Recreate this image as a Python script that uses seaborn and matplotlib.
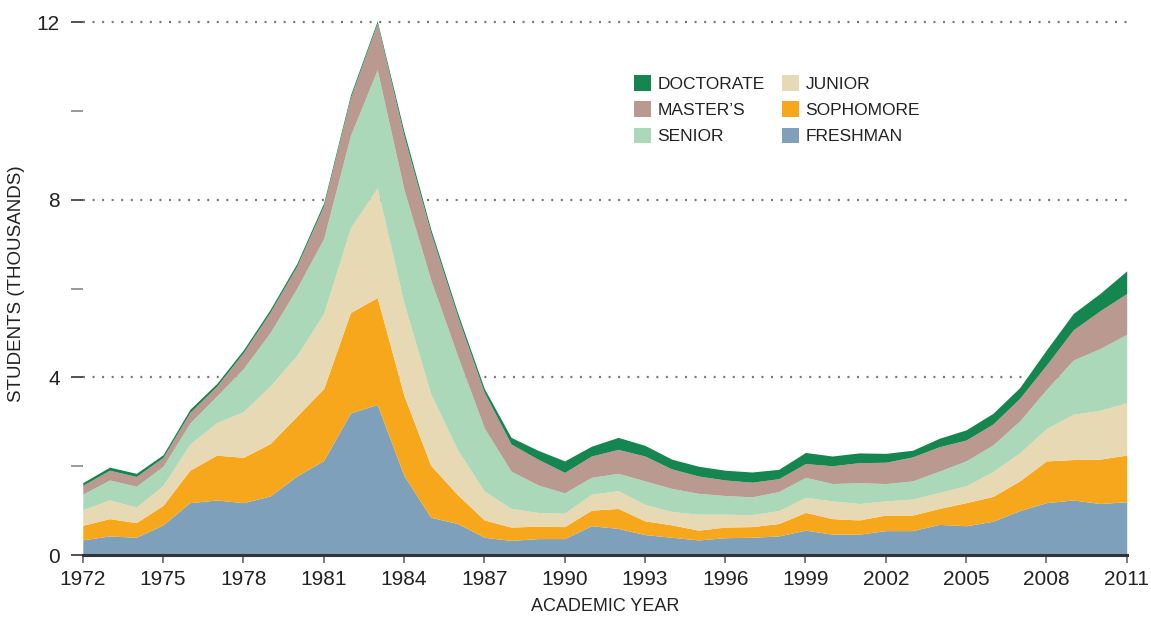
import numpy as np
import pandas as pd
import matplotlib
matplotlib.use("Agg")
import matplotlib.pyplot as plt
import seaborn as sns

# enrollment by level, thousands of students
years = list(range(1972, 2012))

freshman = [0.34, 0.43, 0.40, 0.68, 1.18, 1.24, 1.18, 1.33, 1.78, 2.13,
            3.20, 3.39, 1.79, 0.85, 0.71, 0.40, 0.33, 0.37, 0.37, 0.66,
            0.60, 0.46, 0.40, 0.34, 0.39, 0.40, 0.43, 0.56, 0.47, 0.47,
            0.55, 0.55, 0.69, 0.66, 0.76, 1.00, 1.18, 1.24, 1.16, 1.20]
sophomore = [0.33, 0.39, 0.33, 0.44, 0.73, 1.01, 1.02, 1.18, 1.35, 1.62,
             2.26, 2.41, 1.80, 1.17, 0.65, 0.39, 0.30, 0.28, 0.27, 0.35,
             0.45, 0.31, 0.28, 0.22, 0.24, 0.24, 0.28, 0.40, 0.35, 0.32,
             0.35, 0.35, 0.36, 0.52, 0.56, 0.67, 0.94, 0.91, 1.00, 1.05]
junior = [0.35, 0.42, 0.35, 0.45, 0.59, 0.73, 1.03, 1.30, 1.37, 1.69,
          1.91, 2.47, 2.08, 1.61, 1.01, 0.65, 0.42, 0.31, 0.30, 0.36,
          0.40, 0.37, 0.30, 0.36, 0.29, 0.27, 0.29, 0.34, 0.40, 0.37,
          0.32, 0.36, 0.36, 0.38, 0.56, 0.63, 0.73, 1.02, 1.10, 1.18]
senior = [0.35, 0.45, 0.47, 0.43, 0.47, 0.60, 0.97, 1.20, 1.51, 1.69,
          2.08, 2.66, 2.56, 2.57, 2.12, 1.42, 0.84, 0.62, 0.46, 0.38,
          0.39, 0.53, 0.52, 0.47, 0.42, 0.40, 0.43, 0.45, 0.39, 0.47,
          0.39, 0.41, 0.48, 0.56, 0.60, 0.72, 0.88, 1.22, 1.39, 1.54]
masters = [0.20, 0.22, 0.22, 0.20, 0.24, 0.22, 0.36, 0.46, 0.50, 0.74,
           0.85, 1.05, 1.21, 1.06, 0.89, 0.80, 0.61, 0.58, 0.46, 0.48,
           0.54, 0.56, 0.44, 0.39, 0.35, 0.33, 0.29, 0.31, 0.40, 0.45,
           0.48, 0.54, 0.55, 0.47, 0.47, 0.51, 0.55, 0.68, 0.85, 0.92]
doctorate = [0.06, 0.07, 0.07, 0.06, 0.07, 0.06, 0.06, 0.06, 0.06, 0.06,
             0.06, 0.05, 0.10, 0.08, 0.08, 0.09, 0.15, 0.20, 0.26, 0.22,
             0.27, 0.24, 0.22, 0.22, 0.22, 0.23, 0.21, 0.25, 0.22, 0.22,
             0.20, 0.15, 0.19, 0.23, 0.24, 0.24, 0.34, 0.37, 0.39, 0.51]

levels = ["DOCTORATE", "MASTER\u2019S", "SENIOR", "JUNIOR", "SOPHOMORE", "FRESHMAN"]
colors = ["#168651", "#b99990", "#aad8b8", "#e7d9b4", "#f7a71c", "#7fa0ba"]

frames = []
for name, vals in zip(levels, [doctorate, masters, senior, junior, sophomore, freshman]):
    frames.append(pd.DataFrame({"year": years, "level": name, "students": vals}))
df = pd.concat(frames, ignore_index=True)

sns.set_style("white")
plt.rcParams["font.family"] = ["Liberation Sans", "DejaVu Sans"]

fig = plt.figure(figsize=(11.51, 6.23), dpi=100)
ax = fig.add_axes([0.0719, 0.1091, 0.9070, 0.8695])

# stacked areas: last hue level ends up at the bottom
sns.histplot(data=df, x="year", weights="students", hue="level", hue_order=levels,
             palette=colors, multiple="stack", element="poly", discrete=True,
             alpha=1, linewidth=0, ax=ax)

ax.set_xlim(1972, 2011)
ax.set_ylim(0, 12.2)
ax.set_xticks(range(1972, 2012, 3))
ax.set_xticklabels([str(y) for y in range(1972, 2012, 3)], fontsize=15)
ax.set_yticks([0, 4, 8, 12])
ax.set_yticklabels(["0", "4", "8", "12"], fontsize=15)
ax.set_yticks([2, 6, 10], minor=True)

ax.grid(axis="y", which="major", color="#777777", linestyle=(0, (0.9, 3.4)), linewidth=1.6)
ax.grid(axis="x", visible=False)
ax.set_axisbelow(True)

for s in ["left", "top", "right"]:
    ax.spines[s].set_visible(False)
ax.spines["bottom"].set_color("#333333")
ax.spines["bottom"].set_linewidth(2.2)

ax.tick_params(axis="y", which="major", left=True, length=8.6, width=1.2, color="#333333", pad=8, labelcolor="#222222")
ax.tick_params(axis="y", which="minor", left=True, length=8.6, width=1.2, color="#888888")
ax.tick_params(axis="x", bottom=True, length=6, width=1.2, color="#666666", pad=5, labelcolor="#222222")

ax.set_xlabel("ACADEMIC YEAR", fontsize=13, color="#222222", labelpad=6)
ax.set_ylabel("STUDENTS (THOUSANDS)", fontsize=13.5, color="#222222", labelpad=8)

sns.move_legend(ax, "upper left", bbox_to_anchor=(0.528, 0.886), ncol=2, title=None,
                frameon=False, fontsize=12.5, handlelength=1.0, handleheight=1.0,
                handletextpad=0.35, labelspacing=0.55, columnspacing=1.0,
                borderpad=0, borderaxespad=0)
for t in ax.get_legend().get_texts():
    t.set_color("#222222")

fig.savefig("out.png", dpi=100)
